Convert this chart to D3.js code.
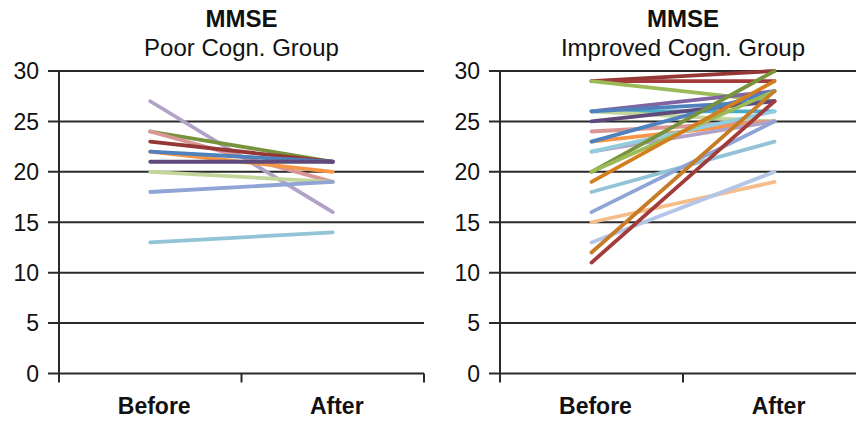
<!DOCTYPE html>
<html>
<head>
<meta charset="utf-8">
<script src="https://cdn.jsdelivr.net/npm/d3@7"></script>
<style>
  html, body { margin: 0; padding: 0; background: #fff; }
  svg { display: block; }
  text { font-family: "Liberation Sans", Arial, sans-serif; fill: #111; }
</style>
</head>
<body>
<svg id="chart" width="856" height="422"></svg>
<script>
// Time points on the x axis
const categories = ["Before", "After"];
const yTicks = [0, 5, 10, 15, 20, 25, 30];

// Poor cognition group: MMSE per patient before / after
const poorBefore = [27, 24, 24, 23, 22, 22, 21, 20, 18, 13];
const poorAfter  = [16, 21, 19, 21, 20, 21, 21, 19, 19, 14];

// Improved cognition group: MMSE per patient before / after
const improvedBefore = [29, 29, 29, 26, 26, 26, 26, 25, 24, 23, 23, 22, 22, 20, 20, 19, 18, 16, 15, 13, 12, 11];
const improvedAfter  = [30, 29, 27, 28, 26, 25, 27, 27, 25, 25, 28, 25, 26, 30, 28, 29, 23, 25, 19, 20, 28, 27];

// Line colours per patient
const poorColors = ["#b3a2c7", "#77933c", "#d99694", "#953735", "#f79646", "#4f81bd",
                    "#604a7b", "#c3d69b", "#8ea5d5", "#93c3d6"];
const improvedColors = ["#953735", "#a33b3b", "#9bbb59", "#8064a2", "#4bacc6", "#c3d69b",
                        "#4f81bd", "#604a7b", "#d99694", "#f79646", "#4f81bd", "#b3a2c7",
                        "#93cddd", "#77933c", "#9bbb59", "#d47f1e", "#93c3d6", "#8ea5d5",
                        "#f5bd8c", "#b4c6e7", "#c77c27", "#a33b3b"];

const svg = d3.select("#chart");

const y = d3.scaleLinear().domain([0, 30]).range([373.5, 71]);

function panel(opts) {
  const g = svg.append("g");
  const x = d3.scaleBand().domain(categories).range([opts.x0, opts.x1]);

  // horizontal gridlines with left tick marks
  g.selectAll("line.grid").data(yTicks).join("line")
    .attr("class", "grid")
    .attr("x1", opts.x0 - 11).attr("x2", opts.gridEnd)
    .attr("y1", d => y(d)).attr("y2", d => y(d))
    .attr("stroke", "#2a2a2a").attr("stroke-width", 2);

  // y tick labels
  g.selectAll("text.ytick").data(yTicks).join("text")
    .attr("class", "ytick")
    .attr("x", opts.x0 - 20).attr("y", d => y(d))
    .attr("dy", "0.36em")
    .attr("text-anchor", "end")
    .attr("font-size", 23)
    .text(d => d);

  // vertical axis line
  g.append("line")
    .attr("x1", opts.x0).attr("x2", opts.x0)
    .attr("y1", y(30)).attr("y2", y(0) + 9)
    .attr("stroke", "#2a2a2a").attr("stroke-width", 2);

  // category boundary ticks on the x axis
  const bounds = [opts.x0 + x.bandwidth(), opts.x1];
  g.selectAll("line.xtick").data(bounds).join("line")
    .attr("class", "xtick")
    .attr("x1", d => d).attr("x2", d => d)
    .attr("y1", y(0)).attr("y2", y(0) + 9)
    .attr("stroke", "#2a2a2a").attr("stroke-width", 2);

  // category labels
  g.selectAll("text.xlab").data(categories).join("text")
    .attr("class", "xlab")
    .attr("x", d => x(d) + x.bandwidth() / 2 + 4)
    .attr("y", 414)
    .attr("text-anchor", "middle")
    .attr("font-size", 23)
    .attr("font-weight", "bold")
    .text(d => d);

  // titles
  const cx = opts.x0 + x.bandwidth();
  g.append("text").attr("x", cx).attr("y", 27)
    .attr("text-anchor", "middle").attr("font-size", 24).attr("font-weight", "bold")
    .text("MMSE");
  g.append("text").attr("x", cx).attr("y", 56)
    .attr("text-anchor", "middle").attr("font-size", 24)
    .text(opts.subtitle);

  // patient lines
  const rows = opts.before.map((b, i) => ({ b, a: opts.after[i], c: opts.colors[i] }));
  const px = d => x(d) + x.bandwidth() / 2;
  g.selectAll("line.patient").data(rows).join("line")
    .attr("class", "patient")
    .attr("x1", px("Before")).attr("x2", px("After"))
    .attr("y1", d => y(d.b)).attr("y2", d => y(d.a))
    .attr("stroke", d => d.c)
    .attr("stroke-width", 3.8)
    .attr("stroke-linecap", "round");
}

panel({ x0: 59, x1: 424, gridEnd: 424, subtitle: "Poor Cogn. Group",
        before: poorBefore, after: poorAfter, colors: poorColors });
panel({ x0: 500, x1: 866, gridEnd: 856, subtitle: "Improved Cogn. Group",
        before: improvedBefore, after: improvedAfter, colors: improvedColors });
</script>
</body>
</html>
